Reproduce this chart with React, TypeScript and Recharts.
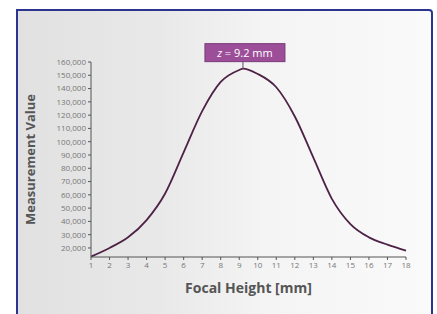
import React from "react";
import {
  ComposedChart,
  Line,
  XAxis,
  YAxis,
  ReferenceDot,
} from "recharts";

const focalHeights = [1, 2, 3, 4, 5, 6, 7, 8, 9, 9.2, 10, 11, 12, 13, 14, 15, 16, 17, 18];
const measurements = [
  13500, 20000, 28000, 41000, 61000, 92000, 123000, 145000, 154000, 155000,
  151000, 141000, 119000, 88000, 57000, 38000, 28000, 22500, 18000,
];
const yTicks = [20000, 30000, 40000, 50000, 60000, 70000, 80000, 90000, 100000, 110000, 120000, 130000, 140000, 150000, 160000];
const xTicks = [1, 2, 3, 4, 5, 6, 7, 8, 9, 10, 11, 12, 13, 14, 15, 16, 17, 18];
const peakX = 9.2;
const peakY = 155000;
const peakLabel = "9.2 mm";

const data = focalHeights.map((x, i) => ({ x, value: measurements[i] }));

const fmt = (v: number) => v.toLocaleString("en-US");

// box above the peak, with a short stem down to the curve
const PeakMarker = (props: any) => {
  const { cx, cy } = props;
  if (cx == null || cy == null) return null;
  const w = 80;
  const h = 18;
  const top = cy - 25;
  return (
    <g>
      <line x1={cx} y1={top + h} x2={cx} y2={cy} stroke="#6a4a66" strokeWidth={1} />
      <rect x={cx - 38} y={top} width={w} height={h} fill="#9c4f98" stroke="#7a3a78" strokeWidth={1} />
      <text
        x={cx + 2}
        y={top + 13}
        textAnchor="middle"
        fill="#ffffff"
        fontSize={11}
        fontFamily="Open Sans, sans-serif"
      >
        <tspan fontStyle="italic">z</tspan> = {peakLabel}
      </text>
    </g>
  );
};

export default function App() {
  return (
    <div
      style={{
        position: "absolute",
        left: 0,
        top: 0,
        width: 437,
        height: 314,
        background: "#ffffff",
        overflow: "hidden",
      }}
    >
      <div
        style={{
          position: "absolute",
          left: 16,
          top: 9,
          width: 413,
          height: 320,
          border: "2px solid #2b3590",
          borderTopRightRadius: 4,
          background: "linear-gradient(90deg, #e1e1e1 0%, #e9e9e9 35%, #f4f4f4 60%, #fafafa 100%)",
        }}
      />
      <div style={{ position: "absolute", left: 0, top: 0 }}>
        <ComposedChart
          width={437}
          height={314}
          data={data}
          margin={{ top: 62, right: 31, bottom: 7, left: 0 }}
        >
          <XAxis
            dataKey="x"
            type="number"
            domain={[1, 18]}
            ticks={xTicks}
            interval={0}
            stroke="#555555"
            tickSize={3}
            tick={{ fontSize: 8, fill: "#777777", fontFamily: "Open Sans, sans-serif" }}
            height={50}
            label={{
              value: "Focal Height [mm]",
              position: "insideBottom",
              offset: 14,
              style: { fontSize: 14, fontWeight: 700, fill: "#555555", fontFamily: "Open Sans, sans-serif" },
            }}
          />
          <YAxis
            type="number"
            domain={[13200, 160000]}
            ticks={yTicks}
            interval={0}
            width={91}
            stroke="#555555"
            tickSize={3}
            tickFormatter={fmt}
            tick={{ fontSize: 8, fill: "#777777", fontFamily: "Open Sans, sans-serif" }}
            label={{
              value: "Measurement Value",
              angle: -90,
              position: "insideLeft",
              offset: 30,
              style: { textAnchor: "middle", fontSize: 13, fontWeight: 700, fill: "#555555", fontFamily: "Open Sans, sans-serif" },
            }}
          />
          <Line
            type="monotone"
            dataKey="value"
            stroke="#4e2246"
            strokeWidth={1.8}
            dot={false}
            isAnimationActive={false}
          />
          <ReferenceDot x={peakX} y={peakY} shape={PeakMarker} />
        </ComposedChart>
      </div>
    </div>
  );
}
